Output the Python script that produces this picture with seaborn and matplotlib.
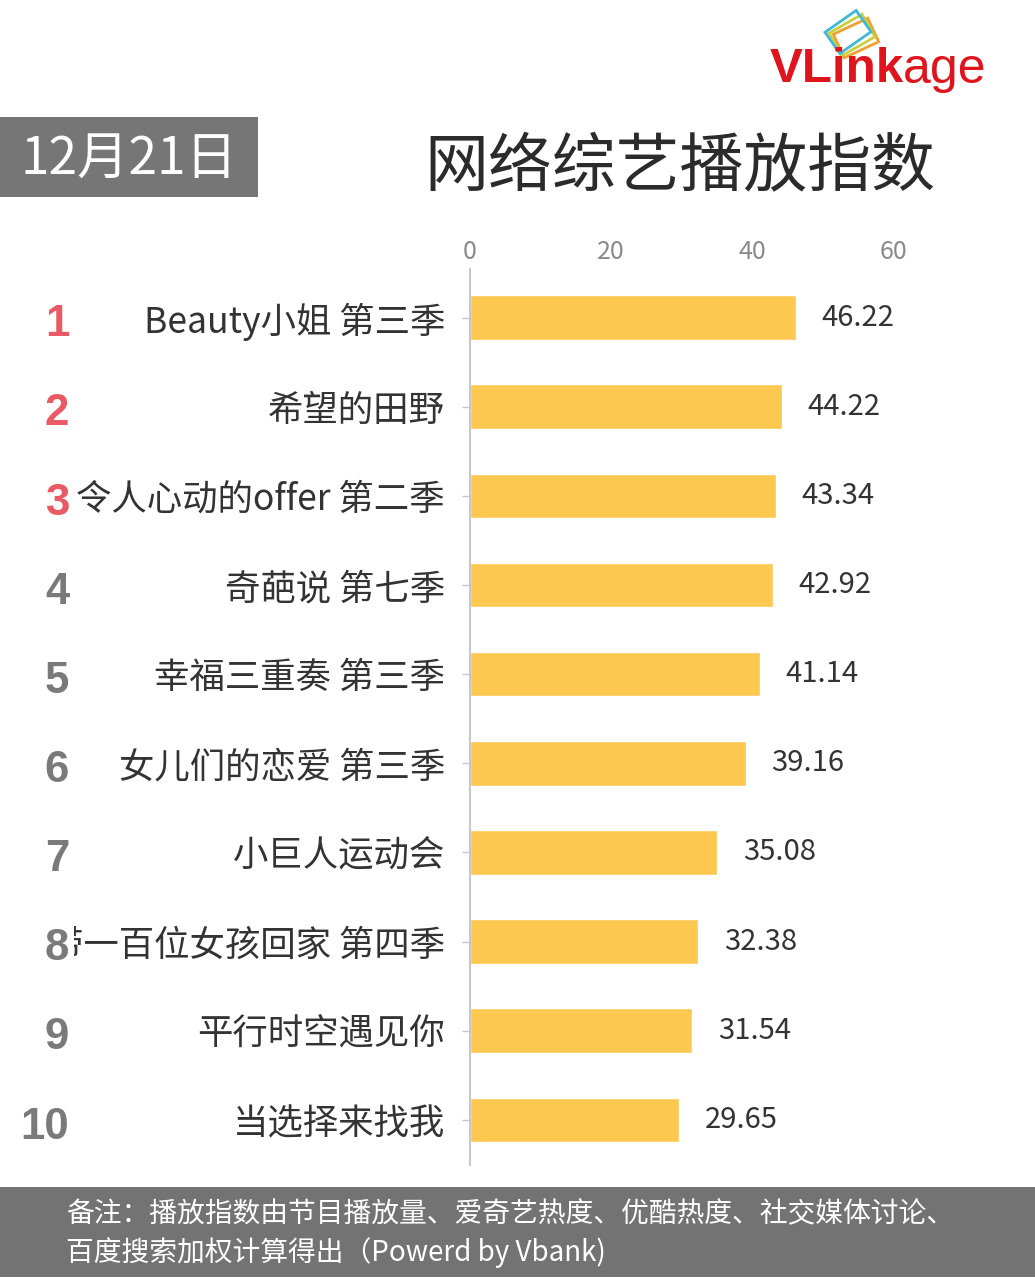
import matplotlib
matplotlib.use("Agg")
import matplotlib.pyplot as plt
import matplotlib.patches as mpatches
import matplotlib.transforms as mtransforms
import seaborn as sns
import pandas as pd

shows = ["Beauty小姐 第三季", "希望的田野", "令人心动的offer 第二季", "奇葩说 第七季",
         "幸福三重奏 第三季", "女儿们的恋爱 第三季", "小巨人运动会",
         "带一百位女孩回家 第四季", "平行时空遇见你", "当选择来找我"]
values = [46.22, 44.22, 43.34, 42.92, 41.14, 39.16, 35.08, 32.38, 31.54, 29.65]
ranks = ["1", "2", "3", "4", "5", "6", "7", "8", "9", "10"]
xticks = [0, 20, 40, 60]
title = "网络综艺播放指数"
date_text = "12月21日"
note_lines = ["备注：播放指数由节目播放量、爱奇艺热度、优酷热度、社交媒体讨论、",
              "百度搜索加权计算得出（Powerd by Vbank)"]

sns.set_theme(style="white")
plt.rcParams['font.family'] = ['Noto Sans CJK SC', 'DejaVu Sans']

W, H = 1035, 1280
fig = plt.figure(figsize=(W / 100, H / 100), dpi=100)
fig.patch.set_facecolor("white")

# overlay axes in pixel coordinates for decorations
deco = fig.add_axes([0, 0, 1, 1])
deco.set_xlim(0, W)
deco.set_ylim(H, 0)
deco.axis("off")

# date box
deco.add_patch(mpatches.Rectangle((0, 117), 258, 80, color="#767676", lw=0))
deco.text(129, 160, date_text, color="white", fontsize=37, ha="center", va="center")

# title
deco.text(680, 168, title, color="#2b2b2b", fontsize=46, ha="center", va="center")

# footer
deco.add_patch(mpatches.Rectangle((0, 1187), W, 90, color="#737373", lw=0))
deco.text(66, 1214, note_lines[0], color="white", fontsize=20, ha="left", va="center")
deco.text(66, 1253, note_lines[1], color="white", fontsize=20, ha="left", va="center")

# logo
deco.text(770, 70, "VLink", color="#e0141c", fontsize=35.5, fontweight="bold",
          ha="left", va="center", family="Liberation Sans")
deco.text(903, 70, "age", color="#e0141c", fontsize=36, ha="left", va="center",
          family="Liberation Sans")
for (cx, cy, col, ang) in [(856, 38, "#f0a030", -25), (852, 35, "#c8d040", -30), (848, 32, "#40b8d8", -35)]:
    r = mpatches.Rectangle((cx - 19, cy - 13), 38, 26, fill=False, ec=col, lw=2,
                           transform=mtransforms.Affine2D().rotate_deg_around(cx, cy, ang) + deco.transData)
    deco.add_patch(r)

# main chart
ax = fig.add_axes([470 / W, 1 - 1164.5 / H, 423 / W, (1164.5 - 273) / H])
ax.set_facecolor("none")
df = pd.DataFrame({"show": shows, "value": values})
sns.barplot(data=df, x="value", y="show", orient="h", color="#fcc850", width=0.5,
            saturation=1, ax=ax)
ax.set_xlim(0, 60)
ax.set_xticks(xticks)
ax.xaxis.tick_top()
ax.tick_params(axis="x", length=0, labelsize=18, labelcolor="#8a8a8a", pad=5.5)
ax.tick_params(axis="y", length=6, color="#c8c8c8", width=1, labelsize=25.5,
               labelcolor="#333333", pad=12, left=True)
ax.set_xlabel("")
ax.set_ylabel("")
for s in ["top", "right", "bottom"]:
    ax.spines[s].set_visible(False)
ax.spines["left"].set_color("#c8c8c8")
ax.spines["left"].set_linewidth(1.5)
ax.spines["left"].set_bounds(-0.55, 9.5)

for i, v in enumerate(values):
    ax.text(v + 3.6, i, f"{v:.2f}", va="center", ha="left", fontsize=21, color="#333333")

# rank numbers (white backing hides the start of the long 8th label, as in the reference)
trans = mtransforms.blended_transform_factory(fig.transFigure, ax.transData)
for i, r in enumerate(ranks):
    col = "#ea5a64" if i < 3 else "#7a7a7a"
    kw = {}
    if i == 7:
        kw["bbox"] = dict(boxstyle="square,pad=0.12", fc="white", ec="none")
    ax.text(57 / W if len(r) == 1 else 45 / W, i + 0.08, r, transform=trans,
            ha="center", va="center", fontsize=31.5, fontweight="bold", color=col,
            family="Liberation Sans", clip_on=False, zorder=6, **kw)

fig.savefig("out.png", dpi=100, facecolor="white")
